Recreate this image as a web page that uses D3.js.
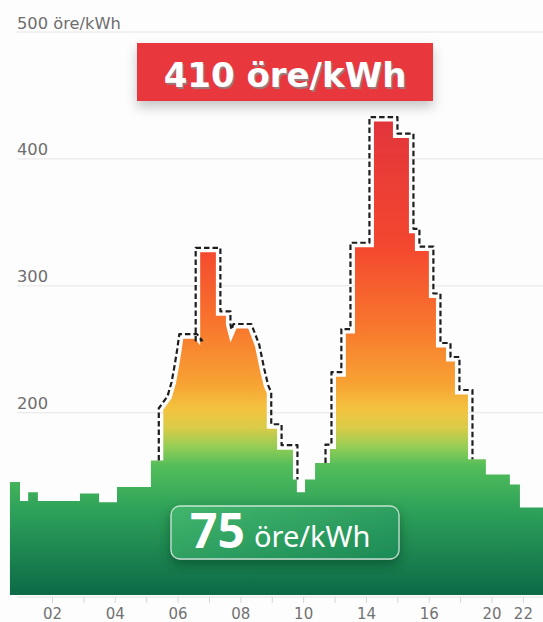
<!DOCTYPE html>
<html><head><meta charset="utf-8">
<script src="https://cdn.jsdelivr.net/npm/d3@7"></script>
<style>
html,body{margin:0;padding:0;background:#fdfdfd;}
svg{display:block;font-family:"DejaVu Sans",sans-serif;}
</style>
</head><body>
<svg id="c" width="543" height="622"></svg>
<script>
// ---- data: price profile vertices (hour position, öre/kWh) ----
const hours = [0.66,0.98, 0.98,1.24, 1.24,1.55, 1.55,2.89, 2.89,3.50, 3.50,4.07, 4.07,5.15, 5.15,5.545,
  5.545,5.81,5.95,6.045,6.13,6.18, 6.55,6.71, 6.72,6.72,7.22, 7.22,7.54, 7.54,7.685,7.875,8.25,
  8.465,8.62,8.75,8.84, 8.84,9.17, 9.17,9.675, 9.675,9.80, 9.80,10.06, 10.06,10.38, 10.38,10.855,
  10.855,11.045, 11.045,11.36, 11.36,11.65, 11.65,12.255, 12.255,12.86, 12.86,13.37, 13.37,13.56,
  13.56,14.005, 14.005,14.23, 14.23,14.55, 14.55,14.835, 14.835,15.25, 15.25,15.82, 15.82,16.585,
  16.585,16.905, 16.905,17.64];
const prices = [145,145, 130,130, 137,137, 130,130, 136,136, 129,129, 141,141, 162,162,
  202,211,223,236,249,258, 258,253, 253,326,326, 276,276, 269,255,266,266,
  252,233.5,220,215, 187,187, 170.5,170.5, 147,147, 137,137, 147,147, 160,160,
  171,171, 228,228, 262,262, 330,330, 429,429, 416,416, 341,341,
  327,327, 290,290, 251,251, 240,240, 214,214, 163,163, 151,151,
  143,143, 125,125];
const peakRanges = [[5.545, 9.675], [10.855, 15.25]];
const yTickValues = [200, 300, 400, 500];
const yTickLabels = ["200", "300", "400", "500 öre/kWh"];
const xTickValues = [2,3,4,5,6,7,8,9,10,11,12,13,14,15,16,17];
const xTickLabels = ["02","","04","","06","","08","","10","","14","","16","","20","22"];
const maxText = "410 öre/kWh";
const minNumber = "75";
const minUnit = "öre/kWh";

const W = 543, H = 622;
const svg = d3.select("#c");
const x = d3.scaleLinear().domain([0.662, 17.64]).range([10, 543]);
const y = d3.scaleLinear().domain([56, 500]).range([595, 31.5]);
const pts = hours.map((h, i) => ({h, v: prices[i]}));

const defs = svg.append("defs");
const g1 = defs.append("linearGradient").attr("id","fillG").attr("gradientUnits","userSpaceOnUse")
  .attr("x1",0).attr("x2",0).attr("y1",118).attr("y2",595);
[[0,"#e2353c"],[0.27,"#f4472f"],[0.44,"#f8782d"],[0.56,"#f7a434"],[0.61,"#f3c33f"],[0.65,"#d9cc48"],
 [0.69,"#93cd55"],[0.73,"#52bd5a"],[0.82,"#2ea25a"],[1,"#0c6a47"]]
 .forEach(([o,c]) => g1.append("stop").attr("offset",o).attr("stop-color",c));
const g2 = defs.append("linearGradient").attr("id","boxG").attr("x1",0).attr("x2",1).attr("y1",0).attr("y2",1);
g2.append("stop").attr("offset",0).attr("stop-color","#43b66c");
g2.append("stop").attr("offset",1).attr("stop-color","#1b8a56");
const sh1 = defs.append("filter").attr("id","sh1").attr("x","-20%").attr("y","-30%").attr("width","140%").attr("height","180%");
sh1.append("feDropShadow").attr("dx",0).attr("dy",6).attr("stdDeviation",6).attr("flood-color","#000").attr("flood-opacity",0.22);
const sh2 = defs.append("filter").attr("id","sh2").attr("x","-20%").attr("y","-40%").attr("width","140%").attr("height","190%");
sh2.append("feDropShadow").attr("dx",0).attr("dy",5).attr("stdDeviation",6).attr("flood-color","#003a20").attr("flood-opacity",0.55);

// y grid + labels
const yAxis = d3.axisRight(y).tickValues(yTickValues).tickSize(W - 17)
  .tickFormat((d, i) => yTickLabels[i]);
const ya = svg.append("g").attr("transform","translate(17,0)").call(yAxis);
ya.select(".domain").remove();
ya.selectAll(".tick line").attr("stroke","#e6e6e6");
ya.selectAll(".tick text").attr("x",0).attr("dy",-3.5).attr("text-anchor","start")
  .attr("font-size",16.3).attr("fill","#6e6e6e").attr("font-family","DejaVu Sans, sans-serif");

// area
const area = d3.area().x(d => x(d.h)).y0(y(56)).y1(d => y(d.v));
svg.append("path").datum(pts).attr("d", area).attr("fill","url(#fillG)");

// dashed outlines around peaks (offset polyline)
function nrm(a, b){ const dx=b[0]-a[0], dy=b[1]-a[1], l=Math.hypot(dx,dy); return [dy/l, -dx/l]; }
function offset(p, d){
  const q = p.filter((v,i)=> i===0 || Math.hypot(v[0]-p[i-1][0], v[1]-p[i-1][1]) > 0.01);
  return q.map((v,i) => {
    const ns = [];
    if (i > 0) ns.push(nrm(q[i-1], v));
    if (i < q.length-1) ns.push(nrm(v, q[i+1]));
    let mx = 0, my = 0; ns.forEach(n => { mx += n[0]; my += n[1]; });
    const ml = Math.hypot(mx, my) || 1; mx /= ml; my /= ml;
    const c = Math.max(mx*ns[0][0] + my*ns[0][1], 0.35);
    return [v[0] + mx*d/c, v[1] + my*d/c];
  });
}
peakRanges.forEach(([a, b]) => {
  const seg = pts.filter(p => p.h >= a - 1e-6 && p.h <= b + 1e-6).map(p => [x(p.h), y(p.v)]);
  const off = offset(seg, 4.5);
  svg.append("path").attr("d", d3.line()(off)).attr("fill","none")
    .attr("stroke","#1e1e1e").attr("stroke-width",2.2).attr("stroke-dasharray","5.5,3")
    .attr("stroke-linejoin","round");
});

// x axis
svg.append("line").attr("x1",17).attr("x2",W).attr("y1",597).attr("y2",597).attr("stroke","#e2e2e2");
const xAxis = d3.axisBottom(x).tickValues(xTickValues).tickSize(6).tickFormat((d, i) => xTickLabels[i]);
const xa = svg.append("g").attr("transform","translate(0,597)").call(xAxis);
xa.select(".domain").remove();
xa.selectAll(".tick line").attr("stroke","#d6d6d6");
xa.selectAll(".tick text").attr("y",22).attr("dy",0).attr("font-size",15)
  .attr("fill","#727272").attr("font-family","DejaVu Sans, sans-serif");

// max label
const mg = svg.append("g");
mg.append("rect").attr("x",137).attr("y",43).attr("width",296).attr("height",58)
  .attr("fill","#e8393d").attr("filter","url(#sh1)");
mg.append("text").attr("x",286.5).attr("y",88.5).attr("text-anchor","middle")
  .attr("font-size",34).attr("font-weight","bold").attr("fill","#8a8a8a").attr("opacity",0.8)
  .attr("font-family","DejaVu Sans, sans-serif").text(maxText);
mg.append("text").attr("x",285).attr("y",87).attr("text-anchor","middle")
  .attr("font-size",34).attr("font-weight","bold").attr("fill","#ffffff")
  .attr("font-family","DejaVu Sans, sans-serif").text(maxText);

// min label
const ng = svg.append("g");
ng.append("rect").attr("x",171).attr("y",506).attr("width",228).attr("height",53).attr("rx",9)
  .attr("fill","url(#boxG)").attr("stroke","rgba(255,255,255,0.7)").attr("stroke-width",1.3)
  .attr("filter","url(#sh2)");
ng.append("text").attr("x",190).attr("y",548).attr("font-size",48).attr("font-weight","bold")
  .attr("fill","#fff").attr("font-family","Noto Sans, sans-serif").text(minNumber);
ng.append("text").attr("x",254).attr("y",547).attr("font-size",29)
  .attr("fill","#fff").attr("font-family","Noto Sans, sans-serif").text(minUnit);
</script>
</body></html>
